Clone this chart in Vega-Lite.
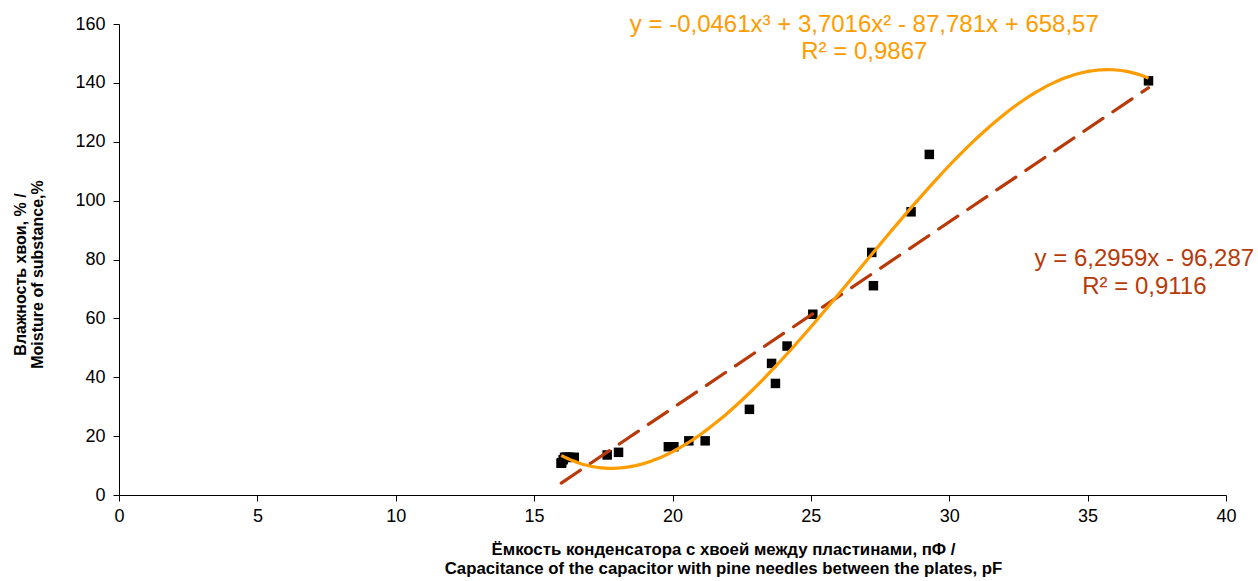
{
  "$schema": "https://vega.github.io/schema/vega-lite/v6.json",
  "width": 1107,
  "height": 471,
  "autosize": {"type": "none"},
  "padding": {"left": 119, "top": 24, "right": 32, "bottom": 86},
  "background": "white",
  "config": {"view": {"stroke": null}, "font": "Liberation Sans"},
  "data": {
    "values": [
      {"capacitance": 15.98, "moisture": 10.8},
      {"capacitance": 15.98, "moisture": 10.8},
      {"capacitance": 16.0, "moisture": 11.0},
      {"capacitance": 16.05, "moisture": 12.0},
      {"capacitance": 16.1, "moisture": 12.8},
      {"capacitance": 16.15, "moisture": 12.8},
      {"capacitance": 16.2, "moisture": 12.8},
      {"capacitance": 16.3, "moisture": 12.8},
      {"capacitance": 16.45, "moisture": 12.8},
      {"capacitance": 17.64, "moisture": 13.6},
      {"capacitance": 18.05, "moisture": 14.5},
      {"capacitance": 19.85, "moisture": 16.4},
      {"capacitance": 20.05, "moisture": 16.4},
      {"capacitance": 20.59, "moisture": 18.4},
      {"capacitance": 21.18, "moisture": 18.4},
      {"capacitance": 22.78, "moisture": 29.1},
      {"capacitance": 23.58, "moisture": 44.7},
      {"capacitance": 23.72, "moisture": 37.9},
      {"capacitance": 24.14, "moisture": 50.6},
      {"capacitance": 25.07, "moisture": 61.4},
      {"capacitance": 27.2, "moisture": 82.4},
      {"capacitance": 27.26, "moisture": 71.1},
      {"capacitance": 28.62, "moisture": 96.2},
      {"capacitance": 29.28, "moisture": 115.7},
      {"capacitance": 37.2, "moisture": 140.7}
    ]
  },
  "layer": [
    {
      "mark": {"type": "square", "size": 90, "color": "black", "filled": true, "opacity": 1},
      "encoding": {
        "x": {
          "field": "capacitance",
          "type": "quantitative",
          "scale": {"domain": [0, 40], "nice": false, "zero": false},
          "axis": {
            "values": [0, 5, 10, 15, 20, 25, 30, 35, 40],
            "grid": false,
            "domainColor": "black",
            "tickColor": "black",
            "labelColor": "black",
            "labelFontSize": 18,
            "labelFont": "Liberation Sans",
            "labelFlush": false,
            "labelOverlap": false,
            "tickSize": 6,
            "labelPadding": 6,
            "title": ["Ёмкость конденсатора с хвоей между пластинами, пФ /", "Capacitance of the capacitor with pine needles between the plates, pF"],
            "titleFont": "Liberation Sans",
            "titleFontSize": 16.8,
            "titleFontWeight": "bold",
            "titleColor": "black",
            "titleX": 604,
            "titleY": 59,
            "titleAlign": "center",
            "titleBaseline": "alphabetic",
            "titleLineHeight": 19
          }
        },
        "y": {
          "field": "moisture",
          "type": "quantitative",
          "scale": {"domain": [0, 160], "nice": false},
          "axis": {
            "values": [0, 20, 40, 60, 80, 100, 120, 140, 160],
            "grid": false,
            "domainColor": "black",
            "tickColor": "black",
            "labelColor": "black",
            "labelFontSize": 18,
            "labelFont": "Liberation Sans",
            "labelFlush": false,
            "labelOverlap": false,
            "tickSize": 6,
            "labelPadding": 8,
            "title": ["Влажность хвои, % /", "Moisture of substance,%"],
            "titleFont": "Liberation Sans",
            "titleFontSize": 16,
            "titleFontWeight": "bold",
            "titleColor": "black",
            "titleAngle": 270,
            "titleX": -94,
            "titleY": 250,
            "titleAlign": "center",
            "titleBaseline": "alphabetic",
            "titleLineHeight": 17
          }
        }
      }
    },
    {
      "transform": [{"regression": "moisture", "on": "capacitance", "method": "linear"}],
      "mark": {"type": "line", "color": "#B83A0A", "strokeWidth": 3.2, "strokeDash": [23, 12], "strokeCap": "round"},
      "encoding": {
        "x": {"field": "capacitance", "type": "quantitative"},
        "y": {"field": "moisture", "type": "quantitative"}
      }
    },
    {
      "transform": [{"regression": "moisture", "on": "capacitance", "method": "poly", "order": 3}],
      "mark": {"type": "line", "color": "#FF9C00", "strokeWidth": 3.2, "interpolate": "monotone"},
      "encoding": {
        "x": {"field": "capacitance", "type": "quantitative"},
        "y": {"field": "moisture", "type": "quantitative"}
      }
    },
    {
      "data": {"values": [{"label": "poly"}]},
      "mark": {
        "type": "text",
        "text": ["y = -0,0461x³ + 3,7016x² - 87,781x + 658,57", "R² = 0,9867"],
        "font": "Liberation Sans",
        "fontSize": 24,
        "fontWeight": "normal",
        "fill": "#FF9C00",
        "align": "center",
        "baseline": "alphabetic",
        "lineHeight": 27
      },
      "encoding": {
        "x": {"datum": 26.93, "type": "quantitative"},
        "y": {"datum": 157.3, "type": "quantitative"}
      }
    },
    {
      "data": {"values": [{"label": "linear"}]},
      "mark": {
        "type": "text",
        "text": ["y = 6,2959x - 96,287", "R² = 0,9116"],
        "font": "Liberation Sans",
        "fontSize": 24,
        "fontWeight": "normal",
        "fill": "#B83A0A",
        "align": "center",
        "baseline": "alphabetic",
        "lineHeight": 28
      },
      "encoding": {
        "x": {"datum": 37.05, "type": "quantitative"},
        "y": {"datum": 77.8, "type": "quantitative"}
      }
    }
  ]
}
